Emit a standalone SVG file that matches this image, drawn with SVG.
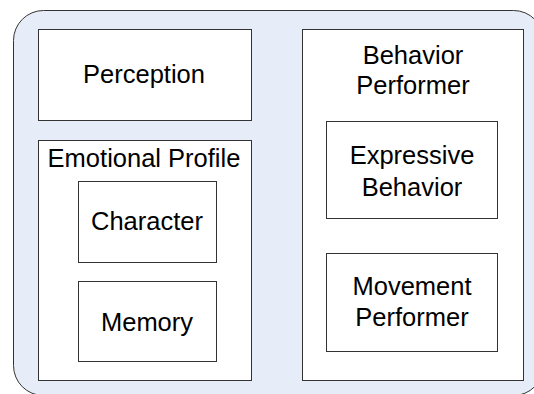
<svg xmlns="http://www.w3.org/2000/svg" width="534" height="394" viewBox="0 0 534 394">
<style>
.bg{fill:#fff}
.outer{fill:#E7EDF8;stroke:#333;stroke-width:1}
.box{fill:#fff;stroke:#333;stroke-width:1}
text{font-family:"Liberation Sans",Arial,sans-serif;font-size:25.5px;fill:#000;text-anchor:middle}
</style>
<rect class="bg" x="0" y="0" width="534" height="394"/>
<g id="container">
<rect class="outer" x="13.5" y="10.5" width="530" height="385" rx="30" ry="30"/>
</g>
<g id="perception">
<rect class="box" x="38.5" y="29.5" width="213" height="91"/>
<text x="144" y="83">Perception</text>
</g>
<g id="emotional-profile">
<rect class="box" x="38.5" y="140.5" width="213" height="240"/>
<text x="144" y="167">Emotional Profile</text>
</g>
<g id="character">
<rect class="box" x="78.5" y="181.5" width="138" height="81"/>
<text x="147" y="229.5">Character</text>
</g>
<g id="memory">
<rect class="box" x="78.5" y="281.5" width="138" height="80"/>
<text x="147" y="331">Memory</text>
</g>
<g id="behavior-performer">
<rect class="box" x="302.5" y="29.5" width="221" height="351"/>
<text x="413" y="63.5">Behavior</text>
<text x="413" y="93.5">Performer</text>
</g>
<g id="expressive-behavior">
<rect class="box" x="326.5" y="121.5" width="171" height="97"/>
<text x="412" y="163.5">Expressive</text>
<text x="412" y="195.5">Behavior</text>
</g>
<g id="movement-performer">
<rect class="box" x="326.5" y="253.5" width="171" height="98"/>
<text x="412" y="294.5">Movement</text>
<text x="412" y="325.5">Performer</text>
</g>
<g id="connectors"></g>
</svg>
